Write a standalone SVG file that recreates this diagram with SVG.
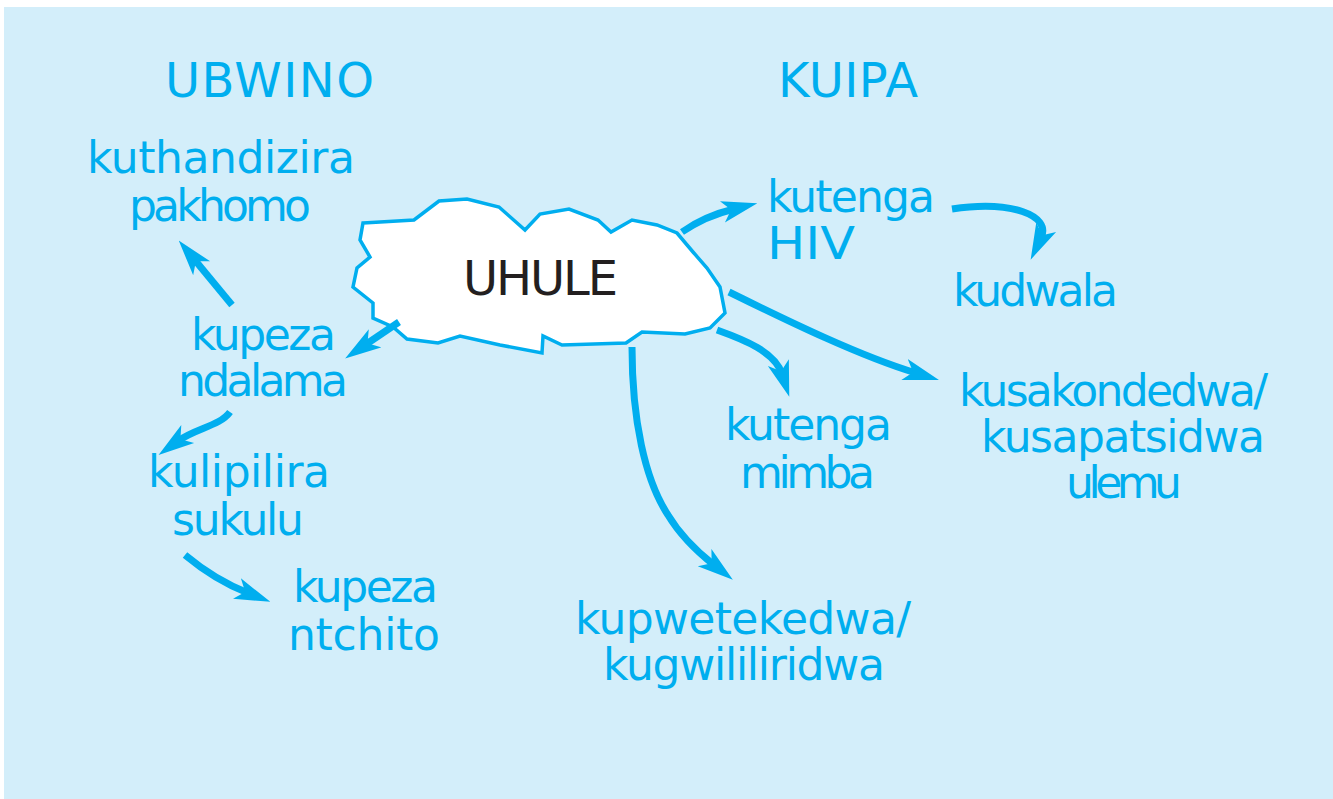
<svg xmlns="http://www.w3.org/2000/svg" width="1333" height="799" viewBox="0 0 1333 799">
<style>
.t{font-family:"DejaVu Sans","Liberation Sans",sans-serif;font-size:44px;fill:#00aeef}
.h{font-size:48px}
.c{fill:none;stroke:#00aeef;stroke-width:7;stroke-linecap:butt}
</style>
<defs>
<marker id="ah" viewBox="0 0 36 24" refX="12" refY="12" markerWidth="36" markerHeight="24" markerUnits="userSpaceOnUse" orient="auto">
<path d="M0,1 L36,12 L0,23 L9,12 Z" fill="#00aeef"/>
</marker>
</defs>
<rect x="4" y="7" width="1329" height="792" fill="#d3eefa"/>
<g id="cloud">
<polygon points="363,223 414,220 439,201 467,199 499,207 525,230 540,214 569,209 598,220 611,232 632,220 657,225 677,233 693,252 707,268 720,287 725,313 710,328 685,334 642,332 626,343 562,345 543,336 542,353 500,345 460,336 438,343 407,339 393,327 373,318 373,303 353,287 357,268 370,257 360,240" fill="#fff" stroke="#00aeef" stroke-width="3.5" stroke-linejoin="miter"/>
<text x="463" y="295" font-family="DejaVu Sans, Liberation Sans, sans-serif" font-size="48" fill="#231f20" textLength="155">UHULE</text>
</g>
<g id="connectors">
<path class="c" d="M232,305 L194,259" marker-end="url(#ah)"/>
<path class="c" d="M399,322 L365,345" marker-end="url(#ah)"/>
<path class="c" d="M230,412 C220,426 196,428 178,441" marker-end="url(#ah)"/>
<path class="c" d="M185,555 Q215,580 248,593" marker-end="url(#ah)"/>
<path class="c" d="M682,232 Q705,216 734,209" marker-end="url(#ah)"/>
<path class="c" d="M952,209 C1010,200 1052,215 1041,238" marker-end="url(#ah)"/>
<path class="c" d="M729,292 C790,322 860,356 916,373" marker-end="url(#ah)"/>
<path class="c" d="M717,330 C745,340 775,352 782,374" marker-end="url(#ah)"/>
<path class="c" d="M632,347 C632,420 645,480 668,515 C680,535 695,550 714,565" marker-end="url(#ah)"/>
</g>
<g id="ubwino"><text class="t h" x="165" y="97" textLength="209">UBWINO</text></g>
<g id="kuipa"><text class="t h" x="778" y="97" textLength="140">KUIPA</text></g>
<g id="kuthandizira">
<text class="t" x="87" y="173" textLength="268">kuthandizira</text>
<text class="t" x="129" y="221" textLength="182">pakhomo</text>
</g>
<g id="kupeza-ndalama">
<text class="t" x="191" y="350" textLength="145">kupeza</text>
<text class="t" x="178" y="396" textLength="170">ndalama</text>
</g>
<g id="kulipilira">
<text class="t" x="148" y="487" textLength="182">kulipilira</text>
<text class="t" x="172" y="535" textLength="132">sukulu</text>
</g>
<g id="kupeza-ntchito">
<text class="t" x="293" y="602" textLength="145">kupeza</text>
<text class="t" x="288" y="650" textLength="152">ntchito</text>
</g>
<g id="kutenga-hiv">
<text class="t" x="767" y="212" textLength="168">kutenga</text>
<text class="t" x="767" y="259" textLength="88" lengthAdjust="spacingAndGlyphs">HIV</text>
</g>
<g id="kudwala"><text class="t" x="953" y="306" textLength="165">kudwala</text></g>
<g id="kutenga-mimba">
<text class="t" x="725" y="440" textLength="167">kutenga</text>
<text class="t" x="740" y="488" textLength="135">mimba</text>
</g>
<g id="kusakondedwa">
<text class="t" x="959" y="406" textLength="309">kusakondedwa/</text>
<text class="t" x="981" y="452" textLength="284">kusapatsidwa</text>
<text class="t" x="1066" y="498" textLength="116">ulemu</text>
</g>
<g id="kupwetekedwa">
<text class="t" x="575" y="634" textLength="336">kupwetekedwa/</text>
<text class="t" x="603" y="680" textLength="282">kugwililiridwa</text>
</g>
</svg>
